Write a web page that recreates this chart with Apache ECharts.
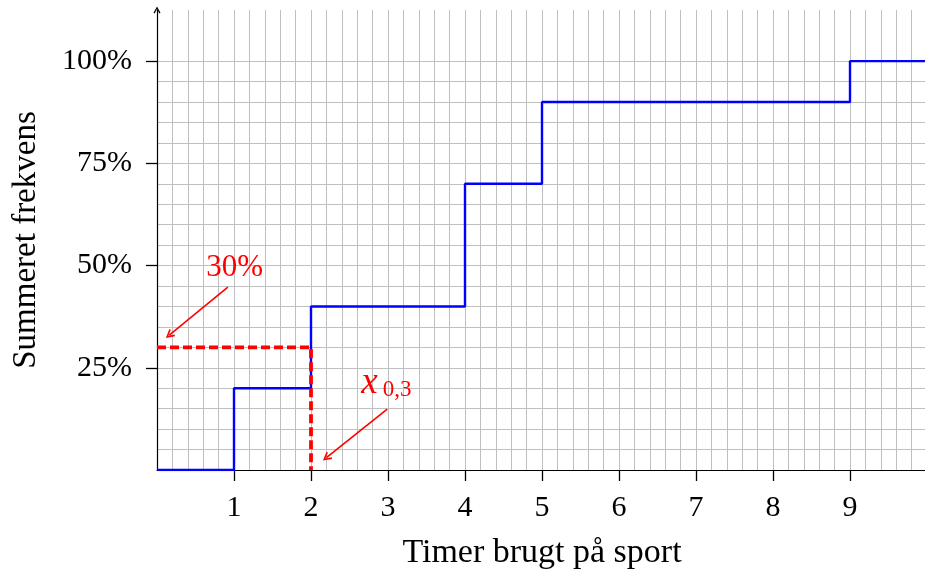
<!DOCTYPE html>
<html><head><meta charset="utf-8">
<script src="https://cdn.jsdelivr.net/npm/echarts@6/dist/echarts.min.js"></script>
<style>html,body{margin:0;padding:0;background:#fff}#c{width:925px;height:569px}</style>
</head><body><div id="c"></div>
<script>
// ---- data ----
const hours = [0, 1, 2, 4, 5, 9, 10];
const cumulativePct = [0, 20, 40, 70, 90, 100, 100];
const xTickLabels = [1, 2, 3, 4, 5, 6, 7, 8, 9];
const yTickLabels = [25, 50, 75, 100];
const quantileLevel = 30;   // percent
const quantileX = 2;        // hours (x_{0,3})
const xAxisTitle = 'Timer brugt på sport';
const yAxisTitle = 'Summeret frekvens';

// annotation anchors (data units)
const levelLabelAt = [1.01, 49.5];
const levelArrow = [[0.92, 44.7], [0.16, 33.0]];
const quantMainAt = [2.76, 21.3];
const quantSubAt = [3.12, 19.6];
const quantArrow = [[2.99, 14.9], [2.2, 3.0]];

const FONT = "'Liberation Serif', 'DejaVu Serif', serif";
const GRIDC = '#bfbfbf';
const RED = '#ff0000';
const chevron = 'path://M5,0 L10,9 L8.4,10 L5,3.6 L1.6,10 L0,9 Z';

const stepData = hours.map((h, i) => [h, cumulativePct[i]]);
const dashData = [[0, quantileLevel], [quantileX, quantileLevel], [quantileX, 0]];

const hSplitColors = [];
for (let v = 0; v <= 115; v += 5) hSplitColors.push(v <= 100 ? GRIDC : 'rgba(0,0,0,0)');

const chart = echarts.init(document.getElementById('c'), null, {renderer: 'canvas'});
chart.setOption({
  animation: false,
  backgroundColor: '#fff',
  grid: {left: 157, right: -2, top: 10, bottom: 99, containLabel: false, outerBoundsMode: 'none'},
  xAxis: [
    {
      type: 'value', min: 0, max: 10, interval: 0.2, position: 'bottom',
      axisLine: {show: true, onZero: false, lineStyle: {color: '#000', width: 1.2}},
      axisTick: {show: false}, axisLabel: {show: false},
      splitLine: {show: true, lineStyle: {color: GRIDC, width: 1}},
      name: xAxisTitle, nameLocation: 'middle', nameGap: 66,
      nameTextStyle: {fontFamily: FONT, fontSize: 34, color: '#000'}
    },
    {
      type: 'value', min: 0, max: 10, interval: 1, position: 'bottom', offset: 0,
      axisLine: {show: false, onZero: false},
      axisTick: {show: true, length: 11, inside: false, customValues: xTickLabels, lineStyle: {color: '#000', width: 1.3}},
      axisLabel: {show: true, margin: 23, customValues: xTickLabels, fontFamily: FONT, fontSize: 30, color: '#000',
        formatter: v => (xTickLabels.indexOf(v) >= 0 ? String(v) : '')},
      splitLine: {show: false}
    }
  ],
  yAxis: [
    {
      type: 'value', min: 0, max: 112.5, interval: 5, position: 'left',
      axisLine: {show: true, onZero: false, symbol: ['none', chevron], symbolSize: [9, 7], symbolOffset: [0, 0],
        lineStyle: {color: '#000', width: 1.2}},
      axisTick: {show: false}, axisLabel: {show: false},
      splitLine: {show: true, lineStyle: {color: hSplitColors, width: 1}},
      name: yAxisTitle, nameLocation: 'middle', nameGap: 114,
      nameTextStyle: {fontFamily: FONT, fontSize: 33, color: '#000'}
    },
    {
      type: 'value', min: 0, max: 112.5, interval: 25, position: 'left', offset: 0,
      axisLine: {show: false, onZero: false},
      axisTick: {show: true, length: 11, inside: false, customValues: yTickLabels, lineStyle: {color: '#000', width: 1.3}},
      axisLabel: {show: true, margin: 25, customValues: yTickLabels, fontFamily: FONT, fontSize: 30, color: '#000',
        formatter: v => (yTickLabels.indexOf(v) >= 0 ? v + '%' : '')},
      splitLine: {show: false}
    }
  ],
  series: [
    {
      type: 'line', xAxisIndex: 0, yAxisIndex: 0, step: 'end', data: stepData,
      showSymbol: false, symbol: 'none', z: 3,
      lineStyle: {color: '#0000ff', width: 2.4}
    },
    {
      type: 'line', xAxisIndex: 0, yAxisIndex: 0, data: dashData,
      showSymbol: false, symbol: 'none', z: 4,
      lineStyle: {color: RED, width: 3.8, type: [9, 4]},
      markLine: {
        silent: true, symbol: ['none', chevron], symbolSize: [9, 9],
        label: {show: false},
        lineStyle: {color: RED, width: 1.6, type: 'solid'},
        data: [
          [{coord: levelArrow[0]}, {coord: levelArrow[1]}],
          [{coord: quantArrow[0]}, {coord: quantArrow[1]}]
        ]
      },
      markPoint: {
        silent: true, symbol: 'rect', symbolSize: 1, itemStyle: {color: 'rgba(0,0,0,0)'},
        data: [
          {coord: levelLabelAt, label: {show: true, position: 'inside', formatter: quantileLevel + '%',
            fontFamily: FONT, fontSize: 31, color: RED}},
          {coord: quantMainAt, label: {show: true, position: 'inside', formatter: 'x',
            fontFamily: FONT, fontStyle: 'italic', fontSize: 37, color: RED}},
          {coord: quantSubAt, label: {show: true, position: 'inside', formatter: '0,3',
            fontFamily: FONT, fontSize: 23, color: RED}}
        ]
      }
    }
  ]
});
</script>
</body></html>
